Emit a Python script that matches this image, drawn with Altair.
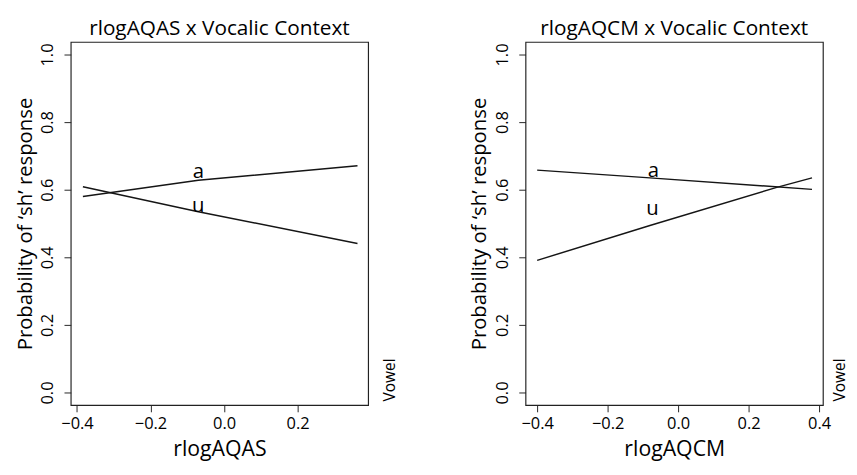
import altair as alt
import pandas as pd

FONT = "Open Sans"

vowels = ["a", "u"]
y_ticks = [0.0, 0.2, 0.4, 0.6, 0.8, 1.0]
y_title = "Probability of \u2018sh\u2019 response"

# Panel 1: rlogAQAS
aqas_x = [-0.384, -0.070, 0.363]
aqas_a = [0.580, 0.628, 0.671]
aqas_u = [0.609, 0.535, 0.441]
aqas_label_x = [-0.070, -0.070]
aqas_label_y = [0.651, 0.551]
aqas_ticks = [-0.4, -0.2, 0.0, 0.2]

# Panel 2: rlogAQCM
aqcm_x_a = [-0.40, -0.08, 0.38]
aqcm_a = [0.658, 0.635, 0.601]
aqcm_x_u = [-0.40, -0.08, 0.28, 0.38]
aqcm_u = [0.391, 0.494, 0.607, 0.635]
aqcm_label_x = [-0.070, -0.073]
aqcm_label_y = [0.654, 0.542]
aqcm_ticks = [-0.4, -0.2, 0.0, 0.2, 0.4]


def lines_df(xa, ya, xu, yu):
    return pd.DataFrame({
        "x": list(xa) + list(xu),
        "y": list(ya) + list(yu),
        "vowel": ["a"] * len(xa) + ["u"] * len(xu),
    })


def panel(df, lab, xname, title, xdomain, xticks, vowel_x):
    xenc = alt.X("x:Q", scale=alt.Scale(domain=xdomain, nice=False, zero=False),
                 axis=alt.Axis(values=xticks, format=".1f", title=xname,
                               labelPadding=4, titlePadding=8))
    yenc = alt.Y("y:Q", scale=alt.Scale(domain=[-0.037, 1.037], nice=False, zero=False),
                 axis=alt.Axis(values=y_ticks, format=".1f", title=y_title,
                               labelAngle=270, labelAlign="center", labelBaseline="bottom",
                               labelPadding=8, titlePadding=4, titleFontSize=21))
    lines = alt.Chart(df).mark_line(color="#151515", strokeWidth=1.5).encode(
        x=xenc, y=yenc, detail="vowel:N")
    text = alt.Chart(lab).mark_text(fontSize=21, font=FONT, color="black", baseline="middle").encode(
        x="x:Q", y="y:Q", text="vowel:N")
    vw = alt.Chart(pd.DataFrame({"t": ["Vowel"]})).mark_text(
        angle=270, fontSize=16, font=FONT, color="black", baseline="middle").encode(
        x=alt.value(vowel_x), y=alt.value(350), text="t:N")
    return alt.layer(lines, text, vw).properties(
        width=308, height=376,
        title=alt.TitleParams(title, fontSize=21.5, font=FONT, fontWeight="normal",
                              color="black", anchor="middle", offset=3))


df1 = lines_df(aqas_x, aqas_a, aqas_x, aqas_u)
lab1 = pd.DataFrame({"x": aqas_label_x, "y": aqas_label_y, "vowel": vowels})
df2 = lines_df(aqcm_x_a, aqcm_a, aqcm_x_u, aqcm_u)
lab2 = pd.DataFrame({"x": aqcm_label_x, "y": aqcm_label_y, "vowel": vowels})

p1 = panel(df1, lab1, "rlogAQAS", "rlogAQAS x Vocalic Context", [-0.417, 0.392], aqas_ticks, 331)
p2 = panel(df2, lab2, "rlogAQCM", "rlogAQCM x Vocalic Context", [-0.433, 0.411], aqcm_ticks, 326)

chart = alt.hconcat(p1, p2, spacing=72).properties(
    padding={"left": 6, "top": 1, "right": 0, "bottom": 0}, background="white"
).configure_view(
    stroke="#222", strokeWidth=1.2
).configure_axis(
    grid=False, domain=False, tickSize=7, tickColor="#222", tickWidth=1,
    labelFont=FONT, titleFont=FONT, labelFontSize=17, titleFontSize=22,
    labelColor="black", titleColor="black", titleFontWeight="normal"
)

chart.save("out.html", embed_options={"renderer": "svg", "actions": False})
